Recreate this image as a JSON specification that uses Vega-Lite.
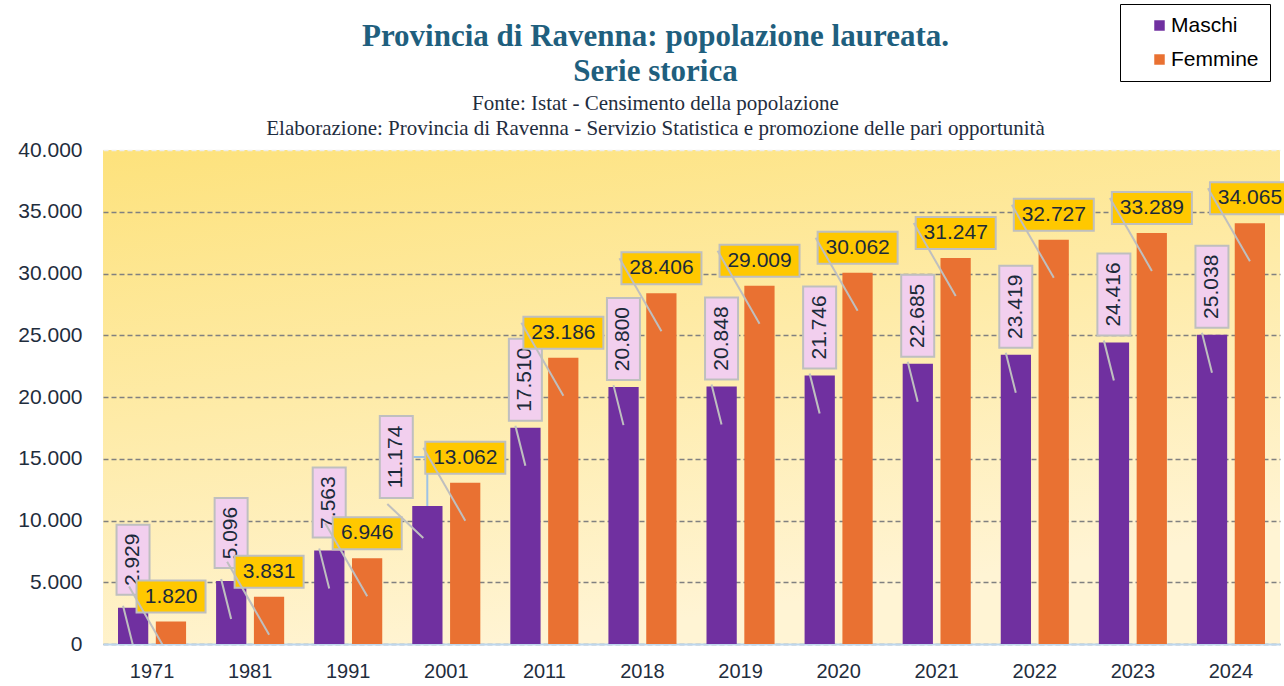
{
  "$schema": "https://vega.github.io/schema/vega-lite/v6.json",
  "autosize": {"type": "none"},
  "width": 1177,
  "height": 494,
  "padding": {"left": 103, "top": 150, "right": 4, "bottom": 42},
  "background": "white",
  "title": {
    "text": ["Provincia di Ravenna: popolazione laureata.", "Serie storica"],
    "subtitle": ["Fonte: Istat - Censimento della popolazione", "Elaborazione: Provincia di Ravenna - Servizio Statistica e  promozione delle pari opportunità"],
    "anchor": "middle",
    "frame": "group",
    "dx": -36,
    "dy": 148,
    "offset": 12,
    "font": "Liberation Serif",
    "fontSize": 31,
    "fontWeight": "bold",
    "color": "#1F5F7E",
    "lineHeight": 35,
    "subtitleFont": "Liberation Serif",
    "subtitleFontSize": 21,
    "subtitleColor": "#1F2D40",
    "subtitleLineHeight": 25,
    "subtitlePadding": 5
  },
  "config": {
    "locale": {"number": {"decimal": ",", "thousands": ".", "grouping": [3], "currency": ["€", ""]}},
    "view": {
      "stroke": null,
      "fill": {"gradient": "linear", "x1": 0, "y1": 0, "x2": 0.35, "y2": 1, "stops": [{"offset": 0, "color": "#FDE27C"}, {"offset": 1, "color": "#FFF4D4"}]}
    },
    "axis": {"labelFont": "Liberation Sans", "labelFontSize": 21, "labelColor": "#1F2D3D", "ticks": false, "title": null}
  },
  "data": {
    "values": [
      {"year": "1971", "serie": "Maschi", "value": 2929},
      {"year": "1971", "serie": "Femmine", "value": 1820},
      {"year": "1981", "serie": "Maschi", "value": 5096},
      {"year": "1981", "serie": "Femmine", "value": 3831},
      {"year": "1991", "serie": "Maschi", "value": 7563},
      {"year": "1991", "serie": "Femmine", "value": 6946},
      {"year": "2001", "serie": "Maschi", "value": 11174},
      {"year": "2001", "serie": "Femmine", "value": 13062},
      {"year": "2011", "serie": "Maschi", "value": 17510},
      {"year": "2011", "serie": "Femmine", "value": 23186},
      {"year": "2018", "serie": "Maschi", "value": 20800},
      {"year": "2018", "serie": "Femmine", "value": 28406},
      {"year": "2019", "serie": "Maschi", "value": 20848},
      {"year": "2019", "serie": "Femmine", "value": 29009},
      {"year": "2020", "serie": "Maschi", "value": 21746},
      {"year": "2020", "serie": "Femmine", "value": 30062},
      {"year": "2021", "serie": "Maschi", "value": 22685},
      {"year": "2021", "serie": "Femmine", "value": 31247},
      {"year": "2022", "serie": "Maschi", "value": 23419},
      {"year": "2022", "serie": "Femmine", "value": 32727},
      {"year": "2023", "serie": "Maschi", "value": 24416},
      {"year": "2023", "serie": "Femmine", "value": 33289},
      {"year": "2024", "serie": "Maschi", "value": 25038},
      {"year": "2024", "serie": "Femmine", "value": 34065}
    ]
  },
  "encoding": {
    "x": {
      "field": "year", "type": "nominal", "sort": null,
      "scale": {"paddingInner": 0.306, "paddingOuter": 0.153},
      "axis": {"labelAngle": 0, "labelPadding": 17, "labelFontSize": 20, "domainColor": "#BDD7EE", "domainWidth": 2, "grid": false}
    },
    "y": {
      "field": "value", "type": "quantitative",
      "scale": {"domain": [0, 40000], "nice": false},
      "axis": {
        "values": [0, 5000, 10000, 15000, 20000, 25000, 30000, 35000, 40000],
        "format": ",d", "domain": false, "labelPadding": 21,
        "grid": true, "gridDash": [5, 3], "gridWidth": 1.6,
        "gridColor": {"condition": {"test": "datum.value === 40000", "value": "#EDEDED"}, "value": "#808080"}
      }
    }
  },
  "layer": [
    {
      "mark": {"type": "bar"},
      "encoding": {
        "xOffset": {"field": "serie", "type": "nominal", "sort": ["Maschi", "Femmine"], "scale": {"paddingInner": 0.2, "paddingOuter": 0}},
        "color": {
          "field": "serie", "type": "nominal",
          "scale": {"domain": ["Maschi", "Femmine"], "range": ["#7030A0", "#E97132"]},
          "legend": {
            "orient": "none", "legendX": 1017, "legendY": -146, "title": null,
            "fillColor": "white", "strokeColor": "black",
            "padding": 11, "rowPadding": 12, "symbolType": "square", "symbolSize": 110,
            "symbolStrokeWidth": 0, "symbolOffset": 18, "labelOffset": 1,
            "labelFont": "Liberation Sans", "labelFontSize": 21, "labelColor": "black"
          }
        }
      }
    },
    {
      "transform": [{"filter": "datum.serie === 'Maschi' && datum.year !== '2001'"}],
      "mark": {"type": "point", "filled": true, "opacity": 1, "fill": "#F2CFEE", "stroke": "#BFBFBF", "strokeWidth": 2, "size": 6400, "xOffset": -19, "yOffset": -48},
      "encoding": {
        "shape": {"condition": {"test": "datum.value >= 10000", "value": "M-0.4125,-1.025H0.4125V1.025H-0.4125Z"}, "value": "M-0.4125,-0.875H0.4125V0.875H-0.4125Z"}
      }
    },
    {
      "transform": [{"filter": "datum.serie === 'Maschi' && datum.year !== '2001'"}],
      "mark": {"type": "text", "angle": 270, "align": "center", "baseline": "middle", "font": "Liberation Sans", "fontSize": 21, "color": "#1B2A3A", "xOffset": -19, "yOffset": -48},
      "encoding": {"text": {"field": "value", "type": "quantitative", "format": ",d"}}
    },
    {
      "transform": [{"filter": "datum.serie === 'Maschi' && datum.year === '2001'"}],
      "mark": {"type": "rule", "color": "#9DC3E6", "strokeWidth": 2, "xOffset": -33, "x2Offset": -19, "yOffset": -49, "y2Offset": -49},
      "encoding": {"x2": {"field": "year"}, "y2": {"field": "value"}}
    },
    {
      "transform": [{"filter": "datum.serie === 'Maschi' && datum.year === '2001'"}],
      "mark": {"type": "rule", "color": "#9DC3E6", "strokeWidth": 2, "xOffset": -19, "x2Offset": -19, "yOffset": -49, "y2Offset": 0},
      "encoding": {"x2": {"field": "year"}, "y2": {"field": "value"}}
    },
    {
      "transform": [{"filter": "datum.serie === 'Maschi' && datum.year === '2001'"}],
      "mark": {"type": "point", "filled": true, "opacity": 1, "fill": "#F2CFEE", "stroke": "#BFBFBF", "strokeWidth": 2, "size": 6400, "shape": "M-0.4125,-1.025H0.4125V1.025H-0.4125Z", "xOffset": -50, "yOffset": -49}
    },
    {
      "transform": [{"filter": "datum.serie === 'Maschi' && datum.year === '2001'"}],
      "mark": {"type": "text", "angle": 270, "align": "center", "baseline": "middle", "font": "Liberation Sans", "fontSize": 21, "color": "#1B2A3A", "xOffset": -50, "yOffset": -49},
      "encoding": {"text": {"field": "value", "type": "quantitative", "format": ",d"}}
    },
    {
      "transform": [{"filter": "datum.serie === 'Femmine'"}],
      "mark": {"type": "point", "filled": true, "opacity": 1, "fill": "#FFC800", "stroke": "#BFBFBF", "strokeWidth": 2, "size": 6400, "xOffset": 19, "yOffset": -25},
      "encoding": {
        "shape": {"condition": {"test": "datum.value >= 10000", "value": "M-1,-0.4H1V0.4H-1Z"}, "value": "M-0.8625,-0.4H0.8625V0.4H-0.8625Z"}
      }
    },
    {
      "transform": [{"filter": "datum.serie === 'Maschi' && datum.year !== '2001'"}],
      "mark": {"type": "rule", "color": "#BFBFBF", "strokeWidth": 2, "clip": true, "xOffset": -29, "x2Offset": -19, "yOffset": -2, "y2Offset": 38},
      "encoding": {"x2": {"field": "year"}, "y2": {"field": "value"}}
    },
    {
      "transform": [{"filter": "datum.serie === 'Maschi' && datum.year === '2001'"}],
      "mark": {"type": "rule", "color": "#BFBFBF", "strokeWidth": 2, "clip": true, "xOffset": -59, "x2Offset": -23, "yOffset": -2, "y2Offset": 32},
      "encoding": {"x2": {"field": "year"}, "y2": {"field": "value"}}
    },
    {
      "transform": [{"filter": "datum.serie === 'Femmine'"}],
      "mark": {"type": "rule", "color": "#BFBFBF", "strokeWidth": 2, "clip": true, "xOffset": -23, "x2Offset": 19, "yOffset": -35, "y2Offset": 38},
      "encoding": {"x2": {"field": "year"}, "y2": {"field": "value"}}
    },
    {
      "transform": [{"filter": "datum.serie === 'Femmine'"}],
      "mark": {"type": "text", "align": "center", "baseline": "middle", "font": "Liberation Sans", "fontSize": 21, "color": "#1B2A3A", "xOffset": 19, "yOffset": -25},
      "encoding": {"text": {"field": "value", "type": "quantitative", "format": ",d"}}
    }
  ]
}
